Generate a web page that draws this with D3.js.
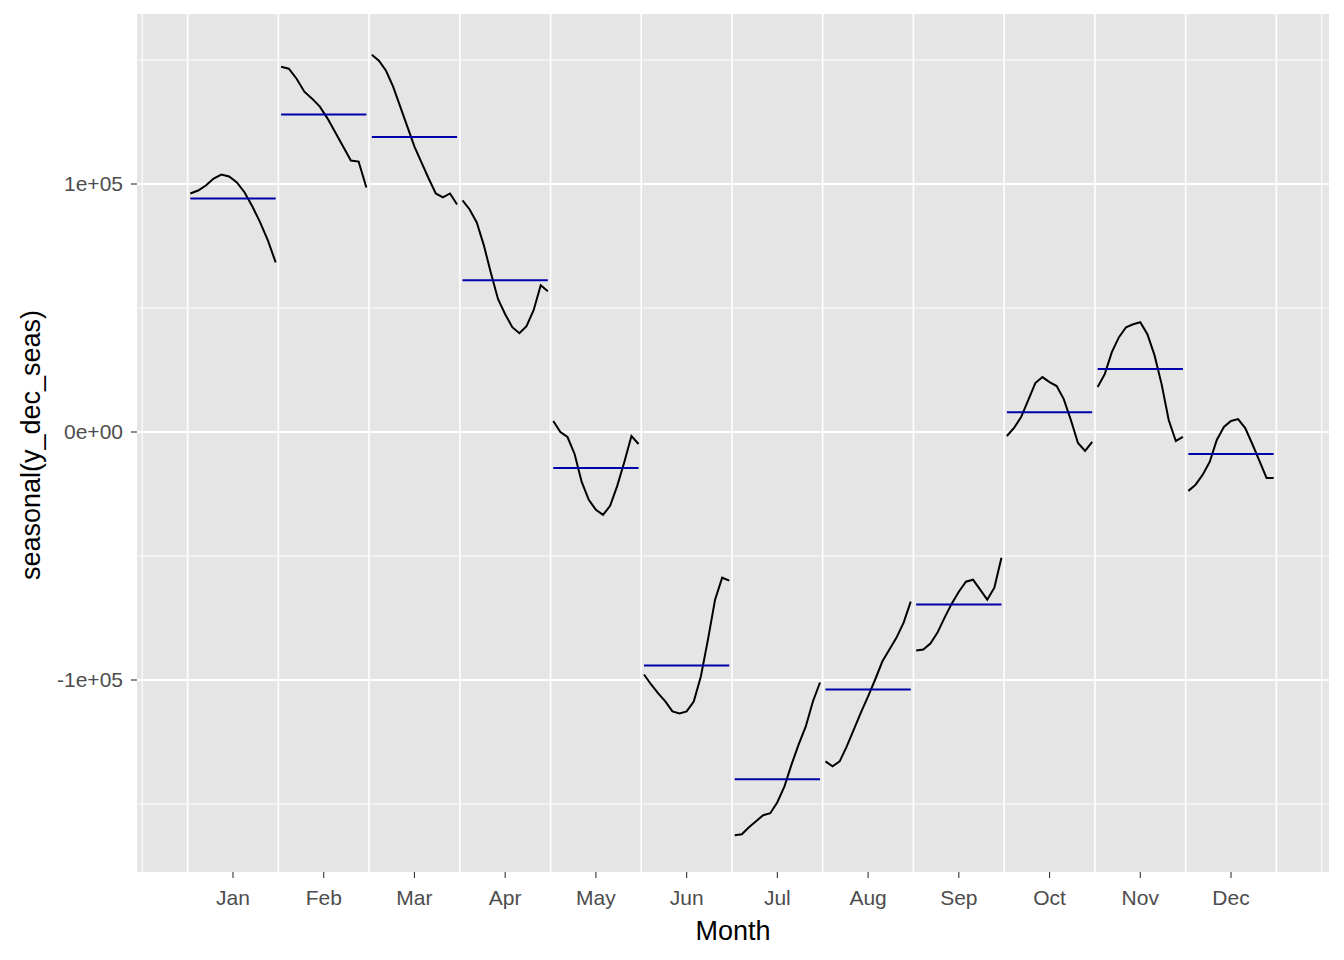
<!DOCTYPE html>
<html><head><meta charset="utf-8">
<script src="https://cdn.jsdelivr.net/npm/d3@7"></script>
<style>body{margin:0;background:#fff}</style></head>
<body><svg id="c" width="1344" height="960"></svg>
<script>
const months=["Jan","Feb","Mar","Apr","May","Jun","Jul","Aug","Sep","Oct","Nov","Dec"];
const pix=[
[193,190,185,178,174,176,182,192,206,222,240,262],
[66,68,78,91,98,106,118,132,146,160,161,187],
[54,60,70,86,106,126,146,162,178,193,197,193,204],
[200,209,222,245,273,299,314,327,333,326,310,285,291],
[421,432,437,454,482,500,510,515,506,486,462,436,444],
[675,685,694,702,712,714,712,702,677,640,600,578,581],
[836,835,828,822,816,814,803,787,765,745,727,702,683],
[762,767,762,747,730,713,697,680,662,650,638,623,602],
[651,650,644,633,618,604,592,582,580,590,600,588,558],
[436,428,417,400,383,377,382,386,399,420,443,451,442],
[387,374,352,337,327,324,322,334,355,384,420,441,437],
[491,485,475,462,440,427,421,419,428,444,461,478,478]];
// values (converted to data units)
const seasonal=pix.map(a=>a.map(y=>Math.round((432-y)/248.5*1e5)));
const meanVals=[94200,128000,119000,61200,-14500,-94200,-140000,-103800,-69600,8000,25400,-8900];
const yTicks=[-1e5,0,1e5];
const yLabels=["-1e+05","0e+00","1e+05"];

const svg=d3.select("#c");
const L=137,R=1329,T=14,B=872;
const x=d3.scaleLinear().domain([1,12]).range([233,1231]);
const y=d3.scaleLinear().domain([0,1e5]).range([432,184]);
svg.append("rect").attr("x",L).attr("y",T).attr("width",R-L).attr("height",B-T).attr("fill","#e5e5e5");
const g=svg.append("g");
[-150000,-50000,50000,150000].forEach(v=>g.append("line").attr("x1",L).attr("x2",R).attr("y1",y(v)).attr("y2",y(v)).attr("stroke","#fff").attr("stroke-width",1.1));
yTicks.forEach(v=>g.append("line").attr("x1",L).attr("x2",R).attr("y1",y(v)).attr("y2",y(v)).attr("stroke","#fff").attr("stroke-width",2.1));
[0,13].forEach(v=>g.append("line").attr("y1",T).attr("y2",B).attr("x1",x(v)).attr("x2",x(v)).attr("stroke","#fff").attr("stroke-width",1.1));
d3.range(0.5,13,1).forEach(v=>g.append("line").attr("y1",T).attr("y2",B).attr("x1",x(v)).attr("x2",x(v)).attr("stroke","#fff").attr("stroke-width",1.6));
const line=d3.line().x(d=>x(d[0])).y(d=>y(d[1]));
seasonal.forEach((arr,i)=>{
  const m=i+1,n=arr.length;
  const pts=arr.map((v,j)=>[m-0.47+0.94*j/(n-1),v]);
  g.append("path").attr("d",line(pts)).attr("fill","none").attr("stroke","#000").attr("stroke-width",2);
  g.append("line").attr("x1",x(m-0.47)).attr("x2",x(m+0.47)).attr("y1",y(meanVals[i])).attr("y2",y(meanVals[i])).attr("stroke","#0000aa").attr("stroke-width",2);
});
months.forEach((mo,i)=>{
  const xx=x(i+1);
  svg.append("line").attr("x1",xx).attr("x2",xx).attr("y1",B).attr("y2",B+6).attr("stroke","#333").attr("stroke-width",1.1);
  svg.append("text").attr("x",xx).attr("y",905).attr("text-anchor","middle").attr("font-family","Liberation Sans, Arial").attr("font-size",21).attr("fill","#4d4d4d").text(mo);
});
yTicks.forEach((v,i)=>{
  svg.append("line").attr("x1",L-6).attr("x2",L).attr("y1",y(v)).attr("y2",y(v)).attr("stroke","#333").attr("stroke-width",1.1);
  svg.append("text").attr("x",L-14).attr("y",y(v)+7).attr("text-anchor","end").attr("font-family","Liberation Sans, Arial").attr("font-size",21).attr("fill","#4d4d4d").text(yLabels[i]);
});
svg.append("text").attr("x",733).attr("y",940).attr("text-anchor","middle").attr("font-family","Liberation Sans, Arial").attr("font-size",27).text("Month");
svg.append("text").attr("transform","translate(40,445) rotate(-90)").attr("text-anchor","middle").attr("font-family","Liberation Sans, Arial").attr("font-size",27).text("seasonal(y_dec_seas)");
</script></body></html>
